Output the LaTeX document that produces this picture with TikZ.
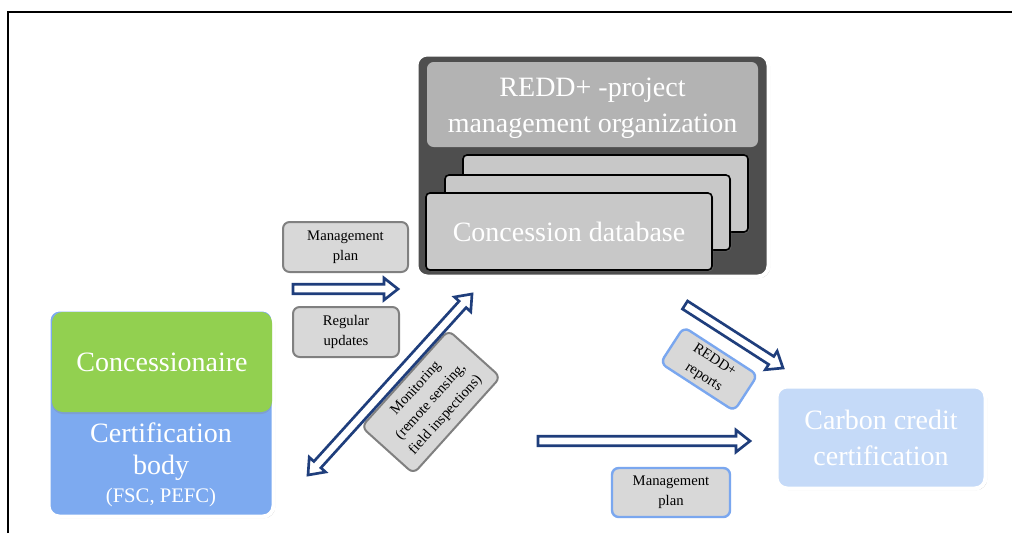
\documentclass[tikz,border=0pt]{standalone}
\usepackage{fontspec}
\setmainfont{Liberation Serif}
\usetikzlibrary{calc,shadows}
\newdimen\pxu \pxu=0.75pt
\definecolor{navy}{HTML}{1F3E7C}
\definecolor{darkbox}{HTML}{4E4E4E}
\definecolor{topbox}{HTML}{B3B3B3}
\definecolor{stackbox}{HTML}{C8C8C8}
\definecolor{labelfill}{HTML}{D8D8D8}
\definecolor{labelgray}{HTML}{808080}
\definecolor{labelblue}{HTML}{7AA7EF}
\definecolor{concgreen}{HTML}{92D050}
\definecolor{certblue}{HTML}{7DAAF0}
\definecolor{carbonblue}{HTML}{C5DAF8}
\tikzset{
  bigtext/.style={font=\fontsize{21}{27}\selectfont, text=white, align=center},
  smalltext/.style={font=\fontsize{11}{15}\selectfont, text=black, align=center},
  mainbox/.style={draw=white, line width=3pt, rounded corners=8pt,
    drop shadow={opacity=0.35, shadow xshift=1.2pt, shadow yshift=-1.2pt}},
  stackcard/.style={draw=black, line width=1.2pt, fill=stackbox, rounded corners=3pt,
    drop shadow={opacity=0.35, shadow xshift=1pt, shadow yshift=-1pt}},
  graylabel/.style={smalltext, draw=labelgray, line width=1.5pt, fill=labelfill, rounded corners=5pt, inner sep=0pt},
  bluelabel/.style={smalltext, draw=labelblue, line width=1.8pt, fill=labelfill, rounded corners=5pt, inner sep=0pt},
  harrow/.style={draw=navy, line width=2pt, fill=white, line join=miter}
}
\newcommand{\blockarrow}[2]{%
  \coordinate (bap) at ($(#2)!10.5pt!(#1)$);
  \draw[harrow] ($(#1)!3.56pt!90:(#2)$) -- ($(bap)!3.56pt!-90:(#1)$) -- ($(bap)!8.25pt!-90:(#1)$) -- (#2)
    -- ($(bap)!8.25pt!90:(#1)$) -- ($(bap)!3.56pt!90:(#1)$) -- ($(#1)!3.56pt!-90:(#2)$) -- cycle;}
\newcommand{\blockdarrow}[2]{%
  \coordinate (bpa) at ($(#1)!10.5pt!(#2)$);
  \coordinate (bpb) at ($(#2)!10.5pt!(#1)$);
  \draw[harrow] (#1) -- ($(bpa)!8.25pt!90:(#2)$) -- ($(bpa)!3.56pt!90:(#2)$) -- ($(bpb)!3.56pt!-90:(#1)$)
    -- ($(bpb)!8.25pt!-90:(#1)$) -- (#2) -- ($(bpb)!8.25pt!90:(#1)$) -- ($(bpb)!3.56pt!90:(#1)$)
    -- ($(bpa)!3.56pt!-90:(#2)$) -- ($(bpa)!8.25pt!-90:(#2)$) -- cycle;}
\begin{document}
\begin{tikzpicture}[x=0.75pt,y=-0.75pt]
\useasboundingbox[fill=white] (0,0) rectangle (1012,533);
% frame
\draw[line width=1.5pt] (8,533) -- (8,12) -- (1012,12);

% REDD+ management organization box
\node[mainbox, fill=darkbox, minimum width=352\pxu, minimum height=222\pxu, inner sep=0pt] (redd) at (592.5,165.5) {};
\node[fill=topbox, rounded corners=5pt, minimum width=331\pxu, minimum height=85\pxu, inner sep=0pt] (org) at (592.5,104.5) {};
\node[bigtext, inner sep=0pt] (orgtext) at (592.5,108) {REDD+ -project\\management organization};
\node[stackcard, minimum width=285\pxu, minimum height=77\pxu, inner sep=0pt] (db3) at (605.5,193.5) {};
\node[stackcard, minimum width=285\pxu, minimum height=75\pxu, inner sep=0pt] (db2) at (587.5,212.5) {};
\node[stackcard, bigtext, minimum width=286\pxu, minimum height=77\pxu, inner sep=0pt] (db1) at (569,231.5) {Concession database};

% Concessionaire / certification body
\node[mainbox, fill=certblue, minimum width=225\pxu, minimum height=207\pxu, inner sep=0pt] (cbox) at (161,413) {};
\node[bigtext, fill=concgreen, rounded corners=8pt, minimum width=220\pxu, minimum height=100\pxu, inner sep=0pt,
  drop shadow={opacity=0.25, shadow xshift=0pt, shadow yshift=-1.5pt}] (conc) at (162,362) {Concessionaire};
\node[bigtext, font=\fontsize{21}{24}\selectfont, inner sep=0pt] (cert) at (161,452) {Certification\\body};
\node[font=\fontsize{15.5}{19}\selectfont, text=white, inner sep=0pt] (fsc) at (161,498) {(FSC, PEFC)};

% Carbon credit certification
\node[mainbox, bigtext, fill=carbonblue, minimum width=209\pxu, minimum height=102\pxu, inner sep=0pt] (carbon) at (881,437.5) {Carbon credit\\certification};

% labels
\node[graylabel, minimum width=125\pxu, minimum height=50\pxu] (mp1) at (345.5,247) {Management\\plan};
\node[graylabel, minimum width=106\pxu, minimum height=50\pxu] (ru) at (346,332) {Regular\\updates};
\node[graylabel, rotate=48, minimum width=130\pxu, minimum height=70\pxu] (mon) at (431,402) {Monitoring\\(remote sensing,\\field inspections)};
\node[bluelabel, rotate=-33, minimum width=88\pxu, minimum height=43\pxu] (rep) at (709,369) {REDD+\\reports};
\node[bluelabel, minimum width=118\pxu, minimum height=49\pxu] (mp2) at (671,492.5) {Management\\plan};

% arrows
\coordinate (a1s) at (293,289);
\coordinate (a1e) at (398,289);
\blockarrow{a1s}{a1e}
\coordinate (a2s) at (308,475);
\coordinate (a2e) at (472,294);
\blockdarrow{a2s}{a2e}
\coordinate (a3s) at (685,305);
\coordinate (a3e) at (783,368);
\blockarrow{a3s}{a3e}
\coordinate (a4s) at (538,441);
\coordinate (a4e) at (750,441);
\blockarrow{a4s}{a4e}
\end{tikzpicture}
\end{document}
